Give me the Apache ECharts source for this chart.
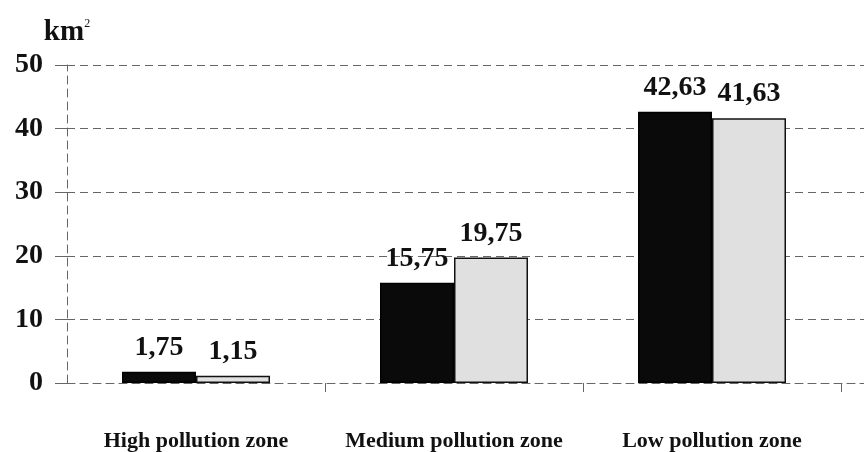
<!DOCTYPE html>
<html>
<head>
<meta charset="utf-8">
<script src="https://cdn.jsdelivr.net/npm/echarts@6/dist/echarts.min.js"></script>
<style>html,body{margin:0;padding:0;background:#fff}#c{width:864px;height:452px}</style>
</head>
<body>
<div id="c"></div>
<script>
const categories = ['High pollution zone', 'Medium pollution zone', 'Low pollution zone'];
const seriesA = [1.75, 15.75, 42.63];
const seriesB = [1.15, 19.75, 41.63];
const yTicks = { min: 0, max: 50, interval: 10 };
const unitLabel = 'km';
const unitSup = '2';

const serif = '"Liberation Serif", "DejaVu Serif", serif';
const fmt = p => String(p.value).replace('.', ',');
const chart = echarts.init(document.getElementById('c'), null, { renderer: 'canvas' });
const gridCommon = { top: 65, bottom: 69 };
chart.setOption({
  animation: false,
  backgroundColor: '#fff',
  grid: [
    Object.assign({ left: 67, right: 0 }, gridCommon),
    Object.assign({ left: 67, right: 23 }, gridCommon)
  ],
  xAxis: [
    { gridIndex: 0, type: 'value', min: 0, max: 1,
      axisLine: { show: true, lineStyle: { color: '#666', type: [8, 5], width: 1 } },
      axisTick: { show: false }, axisLabel: { show: false }, splitLine: { show: false } },
    { gridIndex: 1, type: 'category', data: categories,
      axisLine: { show: false },
      axisTick: { show: true, length: 9, interval: (i) => i > 0, lineStyle: { color: '#666', width: 1 } },
      axisLabel: { interval: 0, margin: 47, fontFamily: serif, fontWeight: 'bold', fontSize: 22, color: '#111' } }
  ],
  yAxis: [
    { gridIndex: 0, type: 'value', min: yTicks.min, max: yTicks.max, interval: yTicks.interval,
      name: '{b|' + unitLabel + '}{s|' + unitSup + '}', nameLocation: 'end', nameGap: 18,
      nameTextStyle: { align: 'center', rich: {
        b: { fontFamily: serif, fontWeight: 'bold', fontSize: 29, color: '#111' },
        s: { fontFamily: serif, fontSize: 12, color: '#111', verticalAlign: 'top', padding: [0, 0, 14, 0] } } },
      axisLine: { show: true, lineStyle: { color: '#666', type: [8, 5], width: 1 } },
      axisTick: { show: true, length: 12, lineStyle: { color: '#666', width: 1 } },
      axisLabel: { margin: 24, fontFamily: serif, fontWeight: 'bold', fontSize: 28, color: '#111' },
      splitLine: { show: true, lineStyle: { color: '#666', type: [8, 5], width: 1 } } },
    { gridIndex: 1, type: 'value', min: yTicks.min, max: yTicks.max, interval: yTicks.interval, show: false,
      splitLine: { show: false } }
  ],
  series: [
    { type: 'bar', xAxisIndex: 1, yAxisIndex: 1, data: seriesA, barWidth: 74, barGap: '0%',
      itemStyle: { color: '#0a0a0a', borderColor: '#000', borderWidth: 1.5 },
      label: { show: true, position: 'top', distance: 10, formatter: fmt,
        fontFamily: serif, fontWeight: 'bold', fontSize: 28, color: '#111' } },
    { type: 'bar', xAxisIndex: 1, yAxisIndex: 1, data: seriesB, barWidth: 74, barGap: '0%',
      itemStyle: { color: '#e0e0e0', borderColor: '#111', borderWidth: 1.5 },
      label: { show: true, position: 'top', distance: 10, formatter: fmt,
        fontFamily: serif, fontWeight: 'bold', fontSize: 28, color: '#111' } }
  ]
});
</script>
</body>
</html>
